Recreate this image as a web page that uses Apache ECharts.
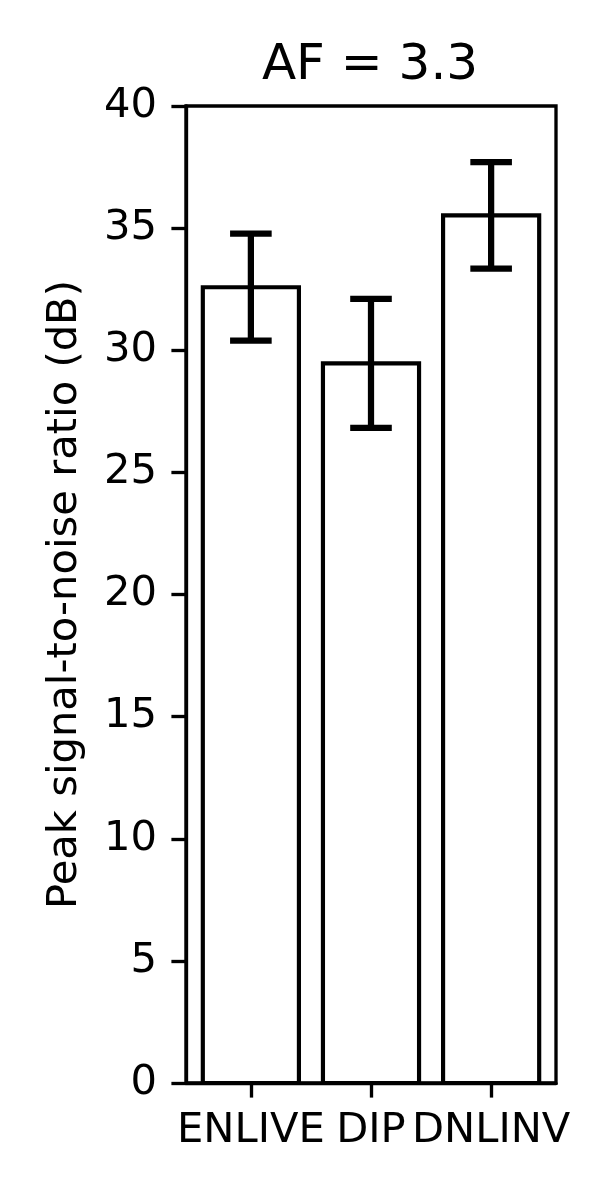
<!DOCTYPE html>
<html>
<head>
<meta charset="utf-8">
<script src="https://cdn.jsdelivr.net/npm/echarts@6/dist/echarts.min.js"></script>
<style>html,body{margin:0;padding:0;background:#fff;}#c{width:600px;height:1200px;}</style>
</head>
<body>
<div id="c"></div>
<script>
const categories = ['ENLIVE', 'DIP', 'DNLINV'];
const means = [32.58, 29.46, 35.52];
const errors = [2.19, 2.64, 2.18];
const yTicks = [0, 5, 10, 15, 20, 25, 30, 35, 40];
const titleText = 'AF = 3.3';
const yLabel = 'Peak signal-to-noise ratio (dB)';

const FONT = 'DejaVu Sans';
const LW = 3.33;
const chart = echarts.init(document.getElementById('c'), null, {renderer: 'canvas'});
const barData = categories.map((c, i) => [i, means[i], errors[i]]);

chart.setOption({
  animation: false,
  backgroundColor: '#fff',
  title: {
    text: titleText,
    left: 365,
    top: 36,
    textAlign: 'center',
    textStyle: {fontFamily: FONT, fontSize: 50, fontWeight: 'normal', color: '#000'}
  },
  grid: {left: 186, right: 44, top: 106, bottom: 117, show: true, borderColor: '#000', borderWidth: LW, backgroundColor: 'transparent'},
  xAxis: {
    type: 'value',
    min: -0.54,
    max: 2.54,
    splitLine: {show: false},
    axisLine: {show: true, onZero: false, lineStyle: {color: '#000', width: LW}},
    axisTick: {show: true, customValues: [0, 1, 2], length: 14.6, lineStyle: {color: '#000', width: LW}},
    axisLabel: {
      customValues: [0, 1, 2],
      formatter: v => categories[Math.round(v)] || '',
      margin: 27,
      fontFamily: FONT, fontSize: 41.67, color: '#000'
    }
  },
  yAxis: {
    type: 'value',
    min: 0,
    max: 40,
    interval: 5,
    name: yLabel,
    nameLocation: 'middle',
    nameGap: 100,
    nameTextStyle: {fontFamily: FONT, fontSize: 41.67, color: '#000'},
    splitLine: {show: false},
    axisLine: {show: true, onZero: false, lineStyle: {color: '#000', width: LW}},
    axisTick: {show: true, length: 14.6, lineStyle: {color: '#000', width: LW}},
    axisLabel: {
      margin: 29,
      formatter: v => (yTicks.indexOf(v) >= 0 ? String(v) : ''),
      fontFamily: FONT, fontSize: 41.67, color: '#000'
    }
  },
  series: [
    {
      type: 'custom',
      data: barData,
      encode: {x: 0, y: 1},
      renderItem: function (params, api) {
        const x = api.value(0), y = api.value(1);
        const tl = api.coord([x - 0.4, y]);
        const br = api.coord([x + 0.4, 0]);
        return {
          type: 'rect',
          shape: {x: tl[0], y: tl[1], width: br[0] - tl[0], height: br[1] - tl[1]},
          style: {fill: '#fff', stroke: '#000', lineWidth: 4.17}
        };
      },
      z: 2
    },
    {
      type: 'custom',
      data: barData,
      encode: {x: 0, y: 1},
      renderItem: function (params, api) {
        const x = api.value(0), y = api.value(1), e = api.value(2);
        const top = api.coord([x, y + e]);
        const bot = api.coord([x, y - e]);
        const cap = 20.8, w = 6.25;
        return {
          type: 'group',
          children: [
            {type: 'rect', shape: {x: top[0] - w / 2, y: top[1], width: w, height: bot[1] - top[1]}, style: {fill: '#000'}},
            {type: 'rect', shape: {x: top[0] - cap, y: top[1] - w / 2, width: 2 * cap, height: w}, style: {fill: '#000'}},
            {type: 'rect', shape: {x: bot[0] - cap, y: bot[1] - w / 2, width: 2 * cap, height: w}, style: {fill: '#000'}}
          ]
        };
      },
      z: 3
    }
  ]
});
</script>
</body>
</html>
